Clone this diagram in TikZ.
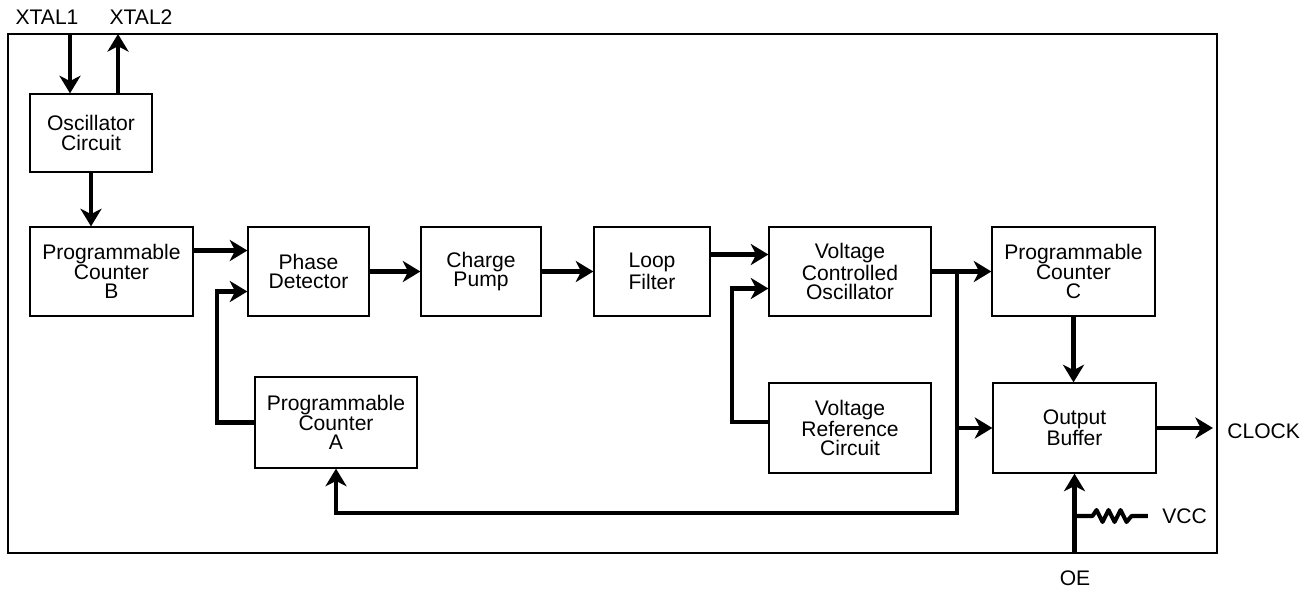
\documentclass[tikz,border=0pt]{standalone}
\usepackage{fontspec}
\setmainfont{Liberation Sans}
\usetikzlibrary{arrows.meta,calc}

\tikzset{
  blk/.style={draw, line width=0.75pt, align=center, inner sep=0pt, font=\fontsize{12}{11}\selectfont},
  lbl/.style={inner sep=0pt, font=\fontsize{12}{11}\selectfont},
  sig/.style={line width=2.3pt},
  arr/.style={sig, -{Stealth[length=10pt,width=12pt,inset=3pt]}},
}

\begin{document}
\begin{tikzpicture}[x=0.02cm, y=-0.02cm]
  \useasboundingbox (0,0) rectangle (1310,592);

  % --- Chip outline ---
  \draw[line width=0.75pt] (8,34) rectangle (1217,553);

  % --- Blocks ---
  \node[blk, minimum width=2.44cm, minimum height=1.56cm] (osc) at (91,133) {Oscillator\\Circuit};
  \node[blk, minimum width=3.26cm, minimum height=1.78cm] (pcb) at (111.5,271.5) {Programmable\\Counter\\B};
  \node[blk, minimum width=2.42cm, minimum height=1.78cm] (pd) at (308.5,271.5) {Phase\\Detector};
  \node[blk, minimum width=2.40cm, minimum height=1.78cm] (cp) at (481,271.5) {Charge\\Pump};
  \node[blk, minimum width=2.32cm, minimum height=1.78cm] (lf) at (652,271.5) {Loop\\Filter};
  \node[blk, minimum width=3.24cm, minimum height=1.78cm] (vco) at (850,271.5) {Voltage\\Controlled\\Oscillator};
  \node[blk, minimum width=3.26cm, minimum height=1.78cm] (pcc) at (1073.5,271.5) {Programmable\\Counter\\C};
  \node[blk, minimum width=3.24cm, minimum height=1.82cm] (pca) at (336,422.5) {Programmable\\Counter\\A};
  \node[blk, minimum width=3.24cm, minimum height=1.80cm] (vrc) at (850,428) {Voltage\\Reference\\Circuit};
  \node[blk, minimum width=3.26cm, minimum height=1.80cm] (ob) at (1074.5,428) {Output\\Buffer};

  % --- Pin labels ---
  \node[lbl] (xtal1) at (47,17) {XTAL1};
  \node[lbl] (xtal2) at (141,17) {XTAL2};
  \node[lbl, anchor=west] (clock) at (1227,431) {CLOCK};
  \node[lbl, anchor=west] (vcc) at (1162,516) {VCC};
  \node[lbl] (oe) at (1075,578) {OE};
  \coordinate (x1) at (70,34);
  \coordinate (x2) at (118,34);
  \coordinate (oepin) at (1075,553);
  \coordinate (tap) at (957,271.5);
  \coordinate (ret) at (957,513);

  % --- Crystal and reference path ---
  \draw[arr] (x1) -- (x1 |- osc.north);
  \draw[arr] (x2 |- osc.north) -- (x2);
  \draw[arr] (osc.south) -- (osc.south |- pcb.north);
  \draw[arr] ($(pcb.east)+(0,-21)$) -- ($(pd.west)+(0,-21)$);

  % --- Loop ---
  \draw[arr] (pd.east) -- (cp.west);
  \draw[arr] (cp.east) -- (lf.west);
  \draw[arr] ($(lf.east)+(0,-17)$) -- ($(vco.west)+(0,-17)$);
  \draw[arr] ($(vrc.west)+(0,-6)$) -- ++(-36,0) |- ($(vco.west)+(0,17)$);
  \draw[arr] (vco.east) -- (pcc.west);
  \draw[arr] (tap) -- (ret) -| (pca.south);
  \draw[arr] (pca.west) -- ++(-37,0) |- ($(pd.west)+(0,20)$);

  % --- Output side ---
  \draw[arr] (tap |- ob.west) -- (ob.west);
  \draw[arr] (pcc.south) -- (pcc.south |- ob.north);
  \draw[arr] (ob.east) -- ([xshift=-8pt]clock.west |- ob.east);
  \draw[arr] (ob.south |- oepin) -- (ob.south);
  \draw[sig, line join=round] (ob.south |- vcc.west) -- ++(18,0) -- ++(4,-6) -- ++(6,12) -- ++(6,-12)
    -- ++(6,12) -- ++(6,-12) -- ++(6,12) -- ++(5,-6) -- ([xshift=-8pt]vcc.west);
\end{tikzpicture}
\end{document}
